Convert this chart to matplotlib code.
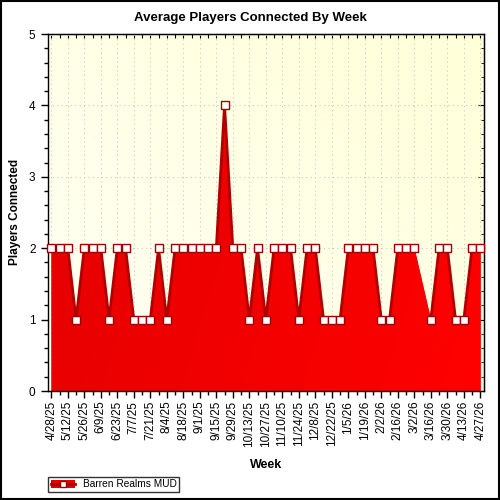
import numpy as np
import matplotlib
matplotlib.use('Agg')
import matplotlib.pyplot as plt
from matplotlib.colors import LinearSegmentedColormap
from matplotlib.lines import Line2D
from matplotlib.patches import Patch, Rectangle
from matplotlib.ticker import MultipleLocator

# weekly averages, 4/28/25 .. 4/27/26 (week of 3/9/26 has no data)
players = [2, 2, 2, 1, 2, 2, 2, 1, 2, 2,
           1, 1, 1, 2, 1, 2, 2, 2, 2, 2,
           2, 4, 2, 2, 1, 2, 1, 2, 2, 2,
           1, 2, 2, 1, 1, 1, 2, 2, 2, 2,
           1, 1, 2, 2, 2, np.nan, 1, 2, 2, 1,
           1, 2, 2]
tick_labels = ['4/28/25', '5/12/25', '5/26/25', '6/9/25', '6/23/25', '7/7/25',
               '7/21/25', '8/4/25', '8/18/25', '9/1/25', '9/15/25', '9/29/25',
               '10/13/25', '10/27/25', '11/10/25', '11/24/25', '12/8/25',
               '12/22/25', '1/5/26', '1/19/26', '2/2/26', '2/16/26', '3/2/26',
               '3/16/26', '3/30/26', '4/13/26', '4/27/26']
series_name = 'Barren Realms MUD'

plt.rcParams['font.family'] = ['Liberation Sans', 'DejaVu Sans']

y = np.array(players, dtype=float)
x = np.arange(len(y))
ok = ~np.isnan(y)

fig = plt.figure(figsize=(5, 5), dpi=100)
ax = fig.add_axes([0.096, 0.218, 0.872, 0.714])
x0, x1 = -0.4, len(y) - 1 + 0.45
ax.set_xlim(x0, x1)
ax.set_ylim(0, 5)

# pale yellow plot background
bg = LinearSegmentedColormap.from_list('bg', ['#FFFFF6', '#FFFFD8'])
gx, gy = np.meshgrid(np.linspace(0, 1, 200), np.linspace(1, 0, 200))
ax.imshow((gx + gy) / 2, extent=[0, 1, 0, 1], transform=ax.transAxes,
          cmap=bg, aspect='auto', zorder=0, interpolation='bilinear')

ax.grid(True, which='major', color='#C8C8C8', linestyle=(0, (1, 3)), lw=0.8)
ax.set_axisbelow(True)

# red area, gradient clipped to the area shape
poly = ax.fill_between(x[ok], y[ok], 0, color='#EE0000', lw=0, zorder=2)
reds = LinearSegmentedColormap.from_list('reds', ['#E40000', '#FF0000'])
rx, ry = np.meshgrid(np.linspace(0, 1, 300), np.linspace(0, 1, 50))
im = ax.imshow((rx * 0.8 + ry * 0.2), extent=[x0, x1, 0, 5], cmap=reds,
               aspect='auto', zorder=2, interpolation='bilinear')
im.set_clip_path(poly.get_paths()[0], ax.transData)

ax.plot(x, y, color='#B00000', lw=2, zorder=3)
ax.plot(x, y, 's', ms=6, mfc='white', mec='#A00000', mew=1, zorder=4,
        clip_on=False)

# ticks
ax.set_xticks(x[::2])
ax.set_xticklabels(tick_labels, rotation=90, fontsize=8.5)
ax.xaxis.set_minor_locator(MultipleLocator(1))
ax.yaxis.set_major_locator(MultipleLocator(1))
ax.yaxis.set_minor_locator(MultipleLocator(0.2))
ax.tick_params(which='major', direction='out', length=5, width=1, labelsize=8.5, pad=2)
ax.tick_params(which='minor', direction='out', length=3, width=1)
ax.tick_params(axis='y', pad=4)

top = ax.secondary_xaxis('top')
top.set_xticks(x)
top.tick_params(direction='in', length=3, labeltop=False)
right = ax.secondary_yaxis('right')
right.yaxis.set_major_locator(MultipleLocator(1))
right.yaxis.set_minor_locator(MultipleLocator(0.2))
right.tick_params(which='major', direction='in', length=4, labelright=False)
right.tick_params(which='minor', direction='in', length=2)

for sp in ax.spines.values():
    sp.set_linewidth(1)

fig.text(0.5, 1 - 18 / 500, 'Average Players Connected By Week',
         ha='center', va='center', fontsize=9.5, fontweight='bold')
fig.text(15 / 500, 1 - 212 / 500, 'Players Connected', rotation=90,
         ha='center', va='center', fontsize=8.5, fontweight='bold')
fig.text(266 / 500, 1 - 465 / 500, 'Week', ha='center', va='center',
         fontsize=9, fontweight='bold')

handle = (Patch(facecolor='#E00000', edgecolor='none'),
          Line2D([], [], color='#B00000', lw=2, marker='s', ms=5,
                 mfc='white', mec='#A00000'))
leg = fig.legend([handle], [series_name], loc='lower left',
                 bbox_to_anchor=(48 / 500, 1 - 492 / 500), fontsize=7.3,
                 frameon=True, fancybox=False, borderpad=0.25,
                 handlelength=2.4, handleheight=0.8, handletextpad=0.8,
                 borderaxespad=0)
leg.get_frame().set_edgecolor('black')
leg.get_frame().set_linewidth(1)

fig.patches.append(Rectangle((0.002, 0.002), 0.996, 0.996, transform=fig.transFigure,
                             fill=False, ec='black', lw=1.5))

fig.savefig('out.png', dpi=100)
